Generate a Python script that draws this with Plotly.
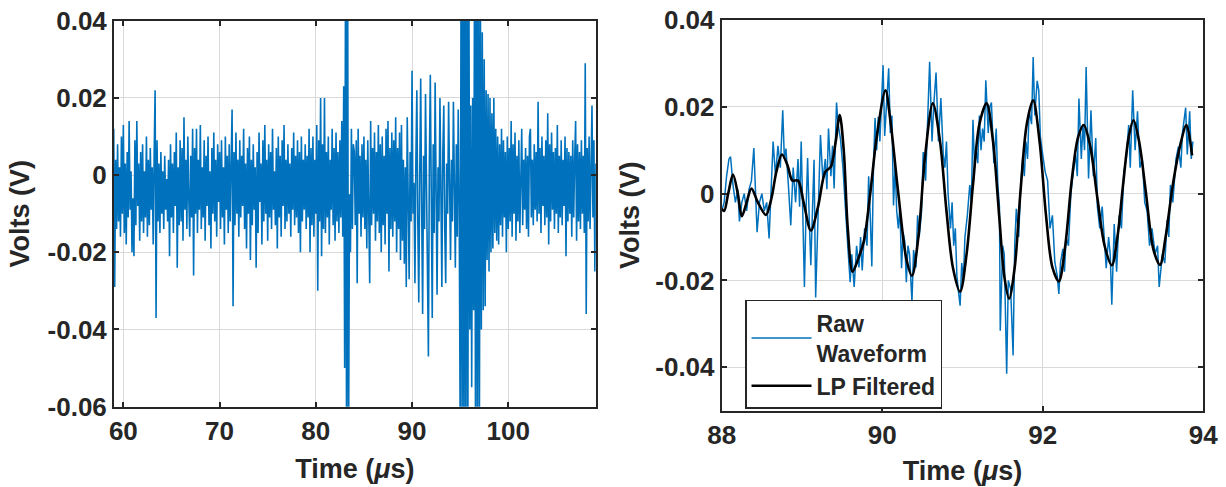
import numpy as np
import plotly.graph_objects as go

# ---- left panel: raw waveform, one sample every 0.1 us from 59.0 us (values in mV)
left_t0 = 59.0
left_dt = 0.1
left_mv = [
    12, -29, 4, -14, 8, -12, 2, -16, 10, -10,      # 59
    13, -15, 3, -18, 6, -11, 14, -9, 1, -20,       # 60
    -6, -21, 9, -13, 14, -8, 3, -17, 6, -12,       # 61
    8, -15, 1, -11, 10, -16, 4, -13, 7, -9,        # 62
    2, -18, 5, 22, -37, 9, -12, 3, -15, 6,         # 63
    -10, 1, -14, 5, -9, -1, -12, 4, -21, 8,        # 64
    -11, 3, -15, 6, -8, 11, -24, 2, -13, 9,        # 65
    -12, 7, -17, 15, -9, 4, -14, 10, -6, -16,      # 66
    5, -11, 12, -26, 7, -10, 12, -15, 4, -9,       # 67
    13, -14, 2, -11, 9, -17, 5, -8, 10, -13,       # 68
    1, -19, 7, -10, 11, -12, 4, -16, 8, -7,        # 69
    6, -14, 9, -11, 2, -18, 10, -9, 5, -15,        # 70
    8, -12, 3, 17, -34, 6, -13, 11, -10, 4,        # 71
    -16, 9, -11, 5, -8, 12, -14, 3, -19, 7,        # 72
    -10, 10, -22, 4, -13, 8, -9, 2, -24, 6,        # 73
    -15, 11, -7, 3, -18, 9, -12, 13, -10, 4,       # 74
    -17, 8, -11, 6, -14, 12, -9, 1, -13, 7,        # 75
    -19, 10, -11, 5, -16, 9, -8, 13, -14, 4,       # 76
    -12, 8, -10, 3, -16, 7, -9, 11, -13, 5,        # 77
    -11, 9, -15, 6, -20, 10, -12, 4, -9, 8,        # 78
    -14, 5, -11, 12, -20, 7, -13, 10, -16, 4,      # 79
    -10, 13, -30, 9, -12, 20, -21, 8, -14, 20,     # 80
    -15, 6, -11, 10, -18, 4, -9, 12, -13, 7,       # 81
    -17, 11, -12, 6, -15, 9, -11, 14, -16, 23,     # 82
    -50, 70, -80, 70, -75, -5, -20, 12, -14, 8,    # 83
    6, -13, 9, -28, 12, -10, 5, -16, 8, -11,       # 84
    10, -14, 4, -19, 9, -12, -28, 14, -13, 7,      # 85
    -10, 11, -17, 6, -12, 13, -15, 8, -20, 10,     # 86
    -13, 5, -18, 12, -10, 14, -25, 7, -14, 11,     # 87
    -16, 9, -12, 15, -20, 7, -14, 11, -22, 13,     # 88
    -17, 4, -23, 2, -29, 15, -8, -27, 6, -12,      # 89
    27, -10, -2, -28, 4, 22, -12, -33, 0, 25,      # 90
    -8, -36, 5, -14, 21, -4, -20, -47, 3, 26,      # 91
    -6, -37, 8, -15, 24, -3, -31, 2, -12, 20,      # 92
    -9, -29, 6, 18, -14, -28, 3, -10, 19, -6,      # 93
    -22, 4, -12, 19, -5, -24, 8, -16, 17, -8,      # 94
    -65, 60, -70, 65, -80, 70, -75, 65, -70, 60,   # 95
    -40, 18, -55, 20, -35, 60, -75, 65, -70, 60,   # 96
    -65, 50, -40, 37, -35, 30, -34, 22, -22, 21,   # 97
    -25, 20, -20, 16, -19, 20, -15, 12, -17, 10,   # 98
    -18, 8, -13, 12, -16, 9, -11, 6, -20, 10,      # 99
    -14, 7, -12, 14, -16, 8, -10, 11, -17, 5,      # 100
    -12, 9, -15, 6, 12, -13, 4, -9, 7, -14,        # 101
    5, -16, 10, 12, -11, 4, -13, 8, -9, 6,         # 102
    -12, 19, -10, 7, -15, 10, -8, 5, -13, 9,       # 103
    -11, 16, -18, 8, -12, 11, -9, 6, -14, 7,       # 104
    -10, 13, -15, 5, -11, 9, -13, 4, -8, 10,       # 105
    -21, 7, -12, 6, -10, 5, -16, 9, -11, 4,        # 106
    14, -17, 8, -12, 6, -14, 9, -10, 5, -15,       # 107
    29, -36, 7, -12, 10, -14, 6, 18, -11, 9,       # 108
    -25, 3,                                        # 109
]

# ---- right panel: zoom 88-94 us, raw samples
raw_t = [88.00, 88.03, 88.06, 88.09, 88.11, 88.14, 88.17, 88.20, 88.22, 88.25,
         88.28, 88.31, 88.34, 88.37, 88.40, 88.42, 88.44, 88.47, 88.50, 88.53,
         88.56, 88.59, 88.62, 88.64, 88.67, 88.70, 88.73, 88.76, 88.78, 88.80,
         88.83, 88.86, 88.89, 88.92, 88.95, 88.97, 88.99, 89.01, 89.03, 89.05,
         89.07, 89.09, 89.11, 89.13, 89.15, 89.17, 89.20, 89.23, 89.26, 89.29,
         89.31, 89.33, 89.36, 89.38, 89.40, 89.43, 89.45, 89.48, 89.51, 89.54,
         89.57, 89.60, 89.62, 89.65, 89.68, 89.71, 89.73, 89.75, 89.78, 89.81,
         89.83, 89.85, 89.87, 89.89, 89.91, 89.93, 89.95, 89.97, 89.99, 90.01,
         90.03, 90.05, 90.08, 90.10, 90.12, 90.14, 90.16, 90.18, 90.20, 90.22,
         90.24, 90.26, 90.28, 90.30, 90.32, 90.34, 90.37, 90.39, 90.42, 90.44,
         90.46, 90.49, 90.51, 90.54, 90.56, 90.59, 90.62, 90.64, 90.67, 90.70,
         90.73, 90.76, 90.78, 90.80, 90.82, 90.85, 90.87, 90.89, 90.91, 90.93,
         90.95, 90.97, 90.99, 91.01, 91.03, 91.06, 91.09, 91.11, 91.13, 91.15,
         91.17, 91.19, 91.21, 91.23, 91.25, 91.27, 91.29, 91.32, 91.34, 91.36,
         91.39, 91.42, 91.44, 91.46, 91.47, 91.50, 91.52, 91.55, 91.57, 91.60,
         91.63, 91.65, 91.67, 91.70, 91.72, 91.75, 91.77, 91.79, 91.81, 91.83,
         91.86, 91.88, 91.90, 91.93, 91.95, 91.97, 92.00, 92.03, 92.06, 92.09,
         92.12, 92.15, 92.18, 92.20, 92.22, 92.25, 92.27, 92.29, 92.32, 92.35,
         92.38, 92.41, 92.43, 92.45, 92.48, 92.50, 92.52, 92.54, 92.57, 92.60,
         92.63, 92.66, 92.68, 92.71, 92.74, 92.76, 92.79, 92.82, 92.84, 92.86,
         92.89, 92.92, 92.95, 92.98, 93.01, 93.04, 93.07, 93.09, 93.12, 93.15,
         93.18, 93.21, 93.24, 93.27, 93.30, 93.33, 93.36, 93.40, 93.43, 93.45,
         93.49, 93.52, 93.55, 93.57, 93.59, 93.62, 93.66, 93.69, 93.72, 93.74,
         93.78, 93.80, 93.83, 93.85, 93.87]
raw_v = [-0.004, -0.002, 0.004, 0.008, 0.0085, 0.002, -0.002, 0.001, -0.0064, -0.002,
         0.000, -0.004, 0.001, 0.003, 0.0105, -0.001, -0.0089, -0.002, 0.000, -0.004,
         -0.002, -0.0103, 0.002, 0.012, 0.004, 0.011, 0.006, 0.0192, 0.008, 0.0104,
         0.002, -0.0073, 0.006, -0.002, 0.008, -0.003, 0.012, -0.005, -0.0215, -0.004,
         0.0082, -0.006, -0.0165, -0.004, 0.0078, -0.0239, -0.004, 0.0135, 0.003, 0.008,
         0.001, 0.015, 0.004, 0.011, 0.0012, 0.021, 0.016, 0.0125, 0.006, -0.004,
         -0.012, -0.0204, -0.014, -0.0215, -0.012, -0.017, -0.010, -0.0177, -0.008, -0.012,
         0.004, -0.005, -0.0168, 0.006, 0.0174, 0.010, 0.0177, 0.012, 0.022, 0.0296,
         0.0133, 0.020, 0.0289, 0.014, 0.018, -0.0027, 0.0065, -0.004, -0.008, -0.003,
         -0.0172, -0.009, -0.011, -0.0204, -0.012, -0.014, -0.025, -0.013, -0.017, -0.005,
         -0.010, -0.004, 0.0096, 0.003, 0.015, 0.0304, 0.012, 0.020, 0.0279, 0.012,
         0.022, 0.009, 0.006, 0.012, 0.000, -0.008, -0.002, -0.012, -0.008, -0.019,
         -0.0227, -0.0258, -0.016, -0.020, -0.010, -0.005, 0.002, -0.002, 0.017, 0.006,
         0.010, 0.007, 0.018, 0.010, 0.015, 0.012, 0.0261, 0.014, 0.020, 0.021,
         0.007, 0.015, 0.002, -0.003, -0.0316, -0.012, -0.014, -0.0415, -0.020, -0.022,
         -0.0373, -0.012, -0.0035, -0.010, 0.000, 0.0085, 0.004, 0.012, 0.008, 0.0192,
         0.016, 0.0315, 0.018, 0.026, 0.0238, 0.013, 0.0088, 0.005, 0.003, -0.008,
         -0.005, -0.0158, -0.0189, -0.0231, -0.016, -0.0127, -0.018, -0.010, -0.012, 0.000,
         0.005, 0.009, 0.004, 0.0219, 0.008, 0.016, 0.010, 0.0292, 0.0035, 0.0192,
         0.004, 0.0128, -0.003, -0.008, -0.003, -0.0089, -0.0172, -0.010, -0.014, -0.0256,
         -0.007, -0.018, -0.005, -0.008, 0.005, 0.008, 0.0158, 0.006, 0.0238, 0.010,
         0.019, 0.006, 0.008, -0.002, -0.004, -0.012, -0.008, -0.0139, -0.012, -0.0215,
         -0.014, -0.016, -0.006, -0.010, 0.002, -0.002, 0.008, 0.0108, 0.006, 0.014,
         0.0198, 0.009, 0.019, 0.008, 0.012]

filt_t = [88.00, 88.03, 88.08, 88.14, 88.20, 88.25, 88.31, 88.37, 88.45, 88.55,
          88.62, 88.68, 88.75, 88.82, 88.88, 88.95, 89.02, 89.11, 89.20, 89.29,
          89.36, 89.42, 89.47, 89.52, 89.57, 89.63, 89.70, 89.77, 89.85, 89.93,
          90.04, 90.10, 90.20, 90.30, 90.37, 90.45, 90.53, 90.63, 90.72, 90.80,
          90.88, 90.97, 91.05, 91.13, 91.21, 91.30, 91.38, 91.46, 91.52, 91.58,
          91.65, 91.72, 91.80, 91.88, 91.96, 92.04, 92.12, 92.20, 92.28, 92.36,
          92.44, 92.51, 92.59, 92.68, 92.77, 92.86, 92.93, 93.00, 93.07, 93.13,
          93.20, 93.28, 93.38, 93.46, 93.53, 93.62, 93.71, 93.79, 93.86]
filt_v = [-0.0035, -0.004, 0.000, 0.0044, 0.000, -0.0052, -0.002, 0.0012, -0.002, -0.0049,
          -0.001, 0.005, 0.009, 0.0065, 0.003, 0.003, -0.002, -0.0085, -0.003, 0.0050,
          0.0062, 0.012, 0.0181, 0.010, -0.008, -0.018, -0.015, -0.011, 0.000, 0.013,
          0.0238, 0.017, 0.000, -0.015, -0.0189, -0.010, 0.008, 0.0208, 0.012, -0.004,
          -0.017, -0.0226, -0.014, 0.002, 0.016, 0.0208, 0.012, -0.006, -0.019, -0.0242,
          -0.017, 0.000, 0.016, 0.0215, 0.012, -0.005, -0.017, -0.0202, -0.012, 0.003,
          0.013, 0.0158, 0.011, -0.001, -0.012, -0.0165, -0.010, 0.002, 0.013, 0.0169,
          0.012, 0.001, -0.013, -0.0164, -0.010, 0.002, 0.011, 0.0158, 0.0088]

left_xticks = [60, 70, 80, 90, 100]
left_yticks = [-0.06, -0.04, -0.02, 0, 0.02, 0.04]
left_ylabels = ['-0.06', '-0.04', '-0.02', '0', '0.02', '0.04']
right_xticks = [88, 90, 92, 94]
right_yticks = [-0.04, -0.02, 0, 0.02, 0.04]
right_ylabels = ['-0.04', '-0.02', '0', '0.02', '0.04']

BLUE = '#0072BD'
INK = '#262626'
FONT = 'Liberation Sans, Arial, sans-serif'

left_t = left_t0 + left_dt * np.arange(len(left_mv))
left_v = np.array(left_mv) / 1000.0

fig = go.Figure()
fig.add_trace(go.Scatter(x=left_t, y=left_v, mode='lines', line=dict(color=BLUE, width=1.6),
                         showlegend=False, xaxis='x', yaxis='y'))
fig.add_trace(go.Scatter(x=raw_t, y=raw_v, mode='lines', line=dict(color=BLUE, width=1.5),
                         name='Raw<br>Waveform', xaxis='x2', yaxis='y2'))
fig.add_trace(go.Scatter(x=filt_t, y=filt_v, mode='lines', line=dict(color='black', width=2.6, shape='spline', smoothing=0.9),
                         name='LP Filtered', xaxis='x2', yaxis='y2'))

axis_common = dict(showline=True, linecolor=INK, linewidth=2, mirror='ticks', ticks='inside',
                   ticklen=5, tickwidth=2, tickcolor=INK, showgrid=True, gridcolor='#d9d9d9',
                   gridwidth=1, zeroline=False, automargin=False,
                   tickfont=dict(family=FONT, size=26, color=INK),
                   title_font=dict(family=FONT, size=27, color=INK))

ttl_x = '<b>Time (<i>μ</i>s)</b>'
ttl_y = '<b>Volts (V)</b>'

fig.update_layout(
    width=1226, height=487, margin=dict(l=0, r=0, t=0, b=0),
    paper_bgcolor='white', plot_bgcolor='white',
    font=dict(family=FONT, size=26, color=INK),
    xaxis=dict(axis_common, domain=[0.093, 0.486], range=[59.03, 109.1], anchor='y',
               tickvals=left_xticks, ticktext=['<b>%d</b>' % v for v in left_xticks],
               title=dict(text=ttl_x, standoff=14)),
    yaxis=dict(axis_common, domain=[0.165, 0.9575], range=[-0.06, 0.04], anchor='x',
               tickvals=left_yticks, ticktext=['<b>%s</b>' % s for s in left_ylabels],
               title=dict(text=ttl_y, standoff=10)),
    xaxis2=dict(axis_common, domain=[0.5887, 0.9815], range=[88, 94], anchor='y2',
                tickvals=right_xticks, ticktext=['<b>%d</b>' % v for v in right_xticks],
                title=dict(text=ttl_x, standoff=12)),
    yaxis2=dict(axis_common, domain=[0.1567, 0.9589], range=[-0.05, 0.04], anchor='x2',
                tickvals=right_yticks, ticktext=['<b>%s</b>' % s for s in right_ylabels],
                title=dict(text=ttl_y, standoff=8)),
    legend=dict(x=0.6077, y=0.384, xanchor='left', yanchor='top',
                bgcolor='white', bordercolor=INK, borderwidth=1.5,
                font=dict(family=FONT, size=23, color=INK), tracegroupgap=0,
                itemwidth=60),
)
fig.for_each_trace(lambda tr: tr.update(name='<b>' + tr.name + '</b>') if tr.name else None)

# drop the default page margin so the figure sits at the window origin
fig.write_html('out.html', config={'displayModeBar': False},
               post_script="document.body.style.margin='0';")
